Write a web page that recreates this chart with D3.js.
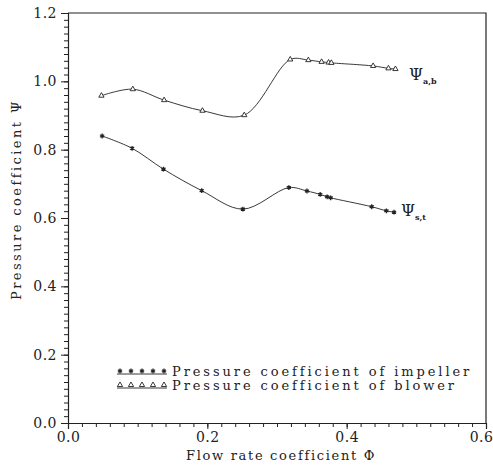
<!DOCTYPE html>
<html>
<head>
<meta charset="utf-8">
<script src="https://cdn.jsdelivr.net/npm/d3@7"></script>
<style>
  html, body { margin: 0; padding: 0; background: #fff; }
</style>
</head>
<body>
<svg id="chart" width="493" height="470"></svg>
<script>
// Flow rate coefficient (phi) and pressure coefficients (psi)
const impellerPhi = [0.049, 0.092, 0.137, 0.192, 0.251, 0.317, 0.343, 0.362, 0.372, 0.377, 0.436, 0.457, 0.468];
const impellerPsi = [0.840, 0.804, 0.743, 0.680, 0.626, 0.689, 0.679, 0.669, 0.662, 0.659, 0.633, 0.621, 0.617];
const blowerPhi   = [0.048, 0.093, 0.138, 0.193, 0.253, 0.319, 0.345, 0.364, 0.374, 0.378, 0.438, 0.460, 0.470];
const blowerPsi   = [0.958, 0.977, 0.945, 0.914, 0.901, 1.064, 1.062, 1.057, 1.055, 1.054, 1.045, 1.038, 1.036];

const xTickLabels = ["0.0", "0.2", "0.4", "0.6"];
const yTickLabels = ["0.0", "0.2", "0.4", "0.6", "0.8", "1.0", "1.2"];
const legendLabels = ["Pressure coefficient of impeller", "Pressure coefficient of blower"];

const SERIF = "'DejaVu Serif', 'Liberation Serif', serif";
const svg = d3.select("#chart");
const plotL = 68, plotR = 486, plotT = 13, plotB = 423;

const x = d3.scaleLinear().domain([0, 0.6]).range([plotL, plotR]);
const y = d3.scaleLinear().domain([0, 1.2]).range([plotB, plotT]);

const ink = "#222";

// Minor ticks every 0.02
const minorX = d3.range(0, 0.6001, 0.02);
const minorY = d3.range(0, 1.2001, 0.02);

svg.append("g").attr("transform", `translate(0,${plotB})`)
  .call(d3.axisBottom(x).tickValues(minorX).tickSize(4).tickFormat(""))
  .call(g => g.select(".domain").remove());
svg.append("g").attr("transform", `translate(${plotL},0)`)
  .call(d3.axisLeft(y).tickValues(minorY).tickSize(4).tickFormat(""))
  .call(g => g.select(".domain").remove());

// Major ticks with labels
const xAxis = svg.append("g").attr("transform", `translate(0,${plotB})`)
  .call(d3.axisBottom(x).tickValues(xTickLabels.map(Number)).tickSize(6)
        .tickPadding(3).tickFormat((d, i) => xTickLabels[i]));
const yAxis = svg.append("g").attr("transform", `translate(${plotL},0)`)
  .call(d3.axisLeft(y).tickValues(yTickLabels.map(Number)).tickSize(7)
        .tickPadding(4).tickFormat((d, i) => yTickLabels[i]));

svg.selectAll(".tick line").attr("stroke", ink).attr("stroke-width", 1);
svg.selectAll(".domain").attr("stroke", ink).attr("stroke-width", 1.2);
[xAxis, yAxis].forEach(a => a.attr("font-family", SERIF).attr("font-size", 14)
  .selectAll("text").attr("letter-spacing", 0.5).attr("fill", ink));
xAxis.selectAll("text").filter((d, i) => i === xTickLabels.length - 1).attr("dx", -5);

// Frame: top and right edges
svg.append("path")
  .attr("d", `M${plotL},${plotT}H${plotR}V${plotB}`)
  .attr("fill", "none").attr("stroke", ink).attr("stroke-width", 1.2);

// Axis titles
svg.append("text")
  .attr("x", 186).attr("y", 460).attr("font-family", SERIF).attr("fill", ink)
  .attr("font-size", 13).attr("letter-spacing", 1.6).attr("textLength", 190)
  .text("Flow rate coefficient \u03A6");
svg.append("text")
  .attr("transform", `translate(21,300) rotate(-90)`).attr("font-family", SERIF).attr("fill", ink)
  .attr("font-size", 13).attr("letter-spacing", 1.6).attr("textLength", 200)
  .text("Pressure coefficient \u03A8");

// Curves
const line = d3.line().x(d => x(d[0])).y(d => y(d[1])).curve(d3.curveCatmullRom.alpha(0.5));
const impeller = impellerPhi.map((p, i) => [p, impellerPsi[i]]);
const blower = blowerPhi.map((p, i) => [p, blowerPsi[i]]);

[impeller, blower].forEach(s => svg.append("path").attr("d", line(s))
  .attr("fill", "none").attr("stroke", ink).attr("stroke-width", 0.9));

const star = d3.symbol(d3.symbolAsterisk, 16);
const tri = d3.symbol(d3.symbolTriangle, 12);

svg.append("g").selectAll("path").data(impeller).join("path")
  .attr("d", star).attr("transform", d => `translate(${x(d[0])},${y(d[1])})`)
  .attr("fill", "none").attr("stroke", ink).attr("stroke-width", 1.3);
svg.append("g").selectAll("path").data(blower).join("path")
  .attr("d", tri).attr("transform", d => `translate(${x(d[0])},${y(d[1])})`)
  .attr("fill", "#fff").attr("stroke", ink).attr("stroke-width", 0.9);

// Series labels at the curve ends
function psiLabel(px, py, sub) {
  const t = svg.append("text").attr("x", px).attr("y", py)
    .attr("font-family", SERIF).attr("fill", ink).attr("font-size", 16);
  t.append("tspan").text("\u03A8");
  t.append("tspan").attr("font-size", 8).attr("dy", 4).attr("font-weight", "bold").text(sub);
}
psiLabel(409, 80, "a,b");
psiLabel(401, 216, "s,t");

// Legend
const legendY = [372, 386];
const sampleX = d3.range(0, 5).map(i => 120 + i * 11);
legendLabels.forEach((lab, i) => {
  const gy = legendY[i];
  svg.append("line").attr("x1", 117).attr("x2", 167).attr("y1", gy + 2).attr("y2", gy + 2)
    .attr("stroke", ink).attr("stroke-width", 0.9);
  svg.append("g").selectAll("path").data(sampleX).join("path")
    .attr("d", i === 0 ? star : tri)
    .attr("transform", d => `translate(${d},${gy - 1})`)
    .attr("fill", i === 0 ? "none" : "#fff").attr("stroke", ink)
    .attr("stroke-width", i === 0 ? 1.3 : 0.9);
  svg.append("text").attr("x", 172).attr("y", gy + 4)
    .attr("font-family", SERIF).attr("fill", ink)
    .attr("font-size", 13).attr("letter-spacing", 2.9).text(lab);
});
</script>
</body>
</html>
